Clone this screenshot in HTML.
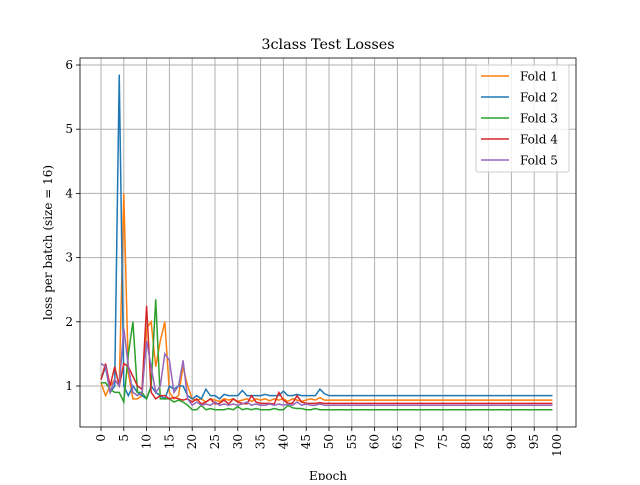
<!DOCTYPE html>
<html><head><meta charset="utf-8"><style>
body{margin:0;background:#fff;}
svg{font-family:"DejaVu Serif","Liberation Serif",serif;}
</style></head><body>
<svg id="c" width="640" height="480"></svg>
<script>
const epochs=[];for(let i=0;i<100;i++)epochs.push(i);
const fold1Head=[1.05,0.85,1.0,1.1,1.0,4.0,1.2,0.8,0.8,0.85,1.9,2.0,1.3,1.7,2.0,0.9,0.8,0.85,1.3,1.0,0.8,0.78,0.8,0.75,0.8,0.78,0.76,0.8,0.78,0.8,0.76,0.78,0.8,0.76,0.8,0.78,0.8,0.77,0.8,0.78,0.8,0.76,0.8,0.78,0.76,0.78,0.8,0.78,0.82,0.78];
const fold2Head=[1.1,1.3,0.9,1.0,5.85,1.0,0.85,1.0,0.9,0.85,0.8,1.0,0.9,0.85,0.8,1.0,0.95,1.0,1.0,0.85,0.8,0.85,0.8,0.95,0.85,0.85,0.8,0.87,0.85,0.85,0.85,0.93,0.85,0.85,0.85,0.85,0.87,0.85,0.85,0.85,0.92,0.85,0.85,0.87,0.85,0.85,0.85,0.85,0.95,0.88];
const fold3Head=[1.05,1.05,0.95,0.9,0.9,0.75,1.5,2.0,0.9,0.9,0.8,1.0,2.35,0.8,0.8,0.8,0.75,0.78,0.75,0.7,0.63,0.63,0.7,0.63,0.65,0.63,0.63,0.63,0.65,0.63,0.68,0.63,0.65,0.63,0.65,0.63,0.63,0.63,0.65,0.63,0.63,0.7,0.66,0.65,0.65,0.63,0.63,0.65,0.63,0.63];
const fold4Head=[1.1,1.35,1.0,1.3,1.0,1.35,1.3,1.15,1.0,0.95,2.25,0.9,0.8,0.85,0.85,0.8,0.82,0.8,0.78,0.8,0.75,0.8,0.72,0.75,0.8,0.72,0.73,0.78,0.72,0.8,0.75,0.73,0.72,0.85,0.75,0.73,0.73,0.73,0.72,0.9,0.78,0.73,0.73,0.85,0.75,0.73,0.73,0.73,0.74,0.73];
const fold5Head=[1.35,1.3,0.9,1.1,1.0,1.9,1.3,0.9,0.85,0.9,1.7,1.3,0.9,1.0,1.5,1.4,0.9,1.0,1.4,0.8,0.7,0.75,0.7,0.72,0.7,0.75,0.7,0.72,0.7,0.72,0.7,0.72,0.75,0.7,0.72,0.7,0.7,0.72,0.7,0.72,0.7,0.72,0.7,0.75,0.7,0.72,0.7,0.7,0.72,0.7];
const tailVals=[0.78,0.85,0.63,0.73,0.70];
const names=["Fold 1","Fold 2","Fold 3","Fold 4","Fold 5"];
const colors=["#ff7f0e","#1f77b4","#2ca02c","#d62728","#9467bd"];
const heads=[fold1Head,fold2Head,fold3Head,fold4Head,fold5Head];
const series=heads.map((h,k)=>epochs.map(i=>i<h.length?h[i]:tailVals[k]));
const yTicks=[1,2,3,4,5,6];
const xTicks=[];for(let t=0;t<=100;t+=5)xTicks.push(t);

const L=80,R=576,T=58,B=427;
const xs=v=>101+v*4.56;
const ys=v=>450.2-v*64.2;
const svg=document.getElementById('c');
const NS='http://www.w3.org/2000/svg';
function mk(tag,attrs,parent){const e=document.createElementNS(NS,tag);for(const k in attrs)e.setAttribute(k,attrs[k]);(parent||svg).appendChild(e);return e;}
const grid=mk('g',{});


xTicks.forEach(t=>{
 mk('line',{x1:xs(t),x2:xs(t),y1:T,y2:B,stroke:'#b0b0b0','stroke-width':1},grid);
 mk('line',{x1:xs(t),x2:xs(t),y1:B,y2:B+4,stroke:'#000','stroke-width':0.8});
 const tx=mk('text',{x:0,y:0,'font-size':12,'text-anchor':'end','dominant-baseline':'central',transform:`translate(${xs(t)},${B+7}) rotate(-90)`});
 tx.textContent=t;
 
 
});
yTicks.forEach(t=>{
 mk('line',{x1:L,x2:R,y1:ys(t),y2:ys(t),stroke:'#b0b0b0','stroke-width':1},grid);
 mk('line',{x1:L-4,x2:L,y1:ys(t),y2:ys(t),stroke:'#000','stroke-width':0.8});
 const tx=mk('text',{x:L-7,y:ys(t)+4,'font-size':12,'text-anchor':'end'});
 tx.textContent=t;
 
 
});
series.forEach((s,k)=>{
 const p=mk('polyline',{points:s.map((v,i)=>xs(epochs[i])+','+ys(v)).join(' '),fill:'none',stroke:colors[k],'stroke-width':1.5});
 
 
});
const fr=mk('rect',{x:L,y:T,width:R-L,height:B-T,fill:'none',stroke:'#000','stroke-width':0.8});


const ti=mk('text',{x:(L+R)/2,y:49,'font-size':14.4,'text-anchor':'middle'});ti.textContent='3class Test Losses';


const xl=mk('text',{x:(L+R)/2,y:480,'font-size':12,'text-anchor':'middle'});xl.textContent='Epoch';


const yl=mk('text',{x:0,y:0,'font-size':12,'text-anchor':'middle',transform:`translate(52,${(T+B)/2}) rotate(-90)`});yl.textContent='loss per batch (size = 16)';


const lg=mk('g',{});


mk('rect',{x:476,y:65,width:93,height:107,rx:2,fill:'#fff','fill-opacity':0.8,stroke:'#ccc'},lg);
names.forEach((n,k)=>{
 const y=76+k*21;
 mk('line',{x1:481,x2:509,y1:y,y2:y,stroke:colors[k],'stroke-width':1.5},lg);
 const t=mk('text',{x:520,y:y+4.5,'font-size':12},lg);t.textContent=n;
 
 
});
</script>
</body></html>
